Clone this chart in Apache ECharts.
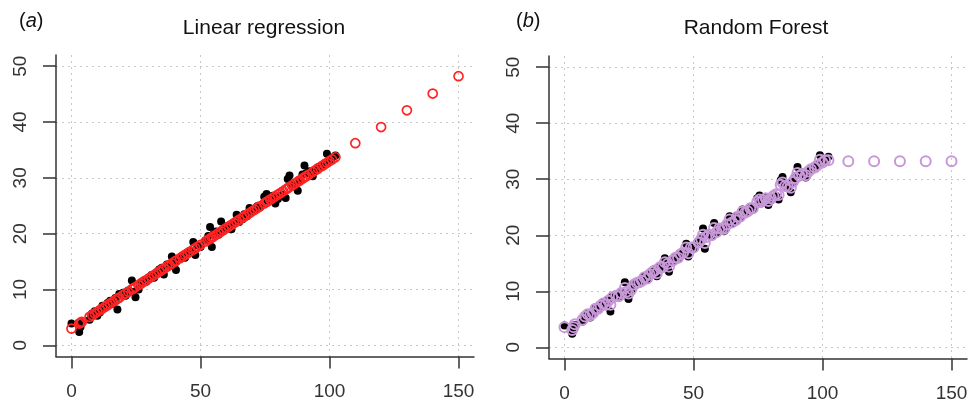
<!DOCTYPE html>
<html>
<head>
<meta charset="utf-8">
<script src="https://cdn.jsdelivr.net/npm/echarts@6/dist/echarts.min.js"></script>
<style>html,body{margin:0;padding:0;background:#fff}#c{width:973px;height:406px}</style>
</head>
<body>
<div id="c"></div>
<script>
// ---- data ----
var obsX = [0.0,3.0,3.5,4.0,7.0,8.0,9.0,10.0,11.0,12.0,13.0,14.0,15.0,16.0,17.0,17.8,18.5,20.0,21.0,22.0,23.4,24.0,24.8,26.0,27.0,28.0,29.0,30.0,31.0,32.0,33.0,34.0,35.0,35.8,37.0,38.0,38.9,40.0,40.5,42.0,43.0,44.0,45.0,46.0,47.2,48.0,49.0,50.0,52.0,53.0,53.7,54.4,55.0,56.0,57.0,58.0,59.0,60.0,61.0,62.0,63.0,64.0,65.0,66.3,67.0,68.0,69.0,70.0,71.0,72.0,73.0,74.7,75.6,76.0,77.0,78.0,79.0,80.0,81.0,82.0,83.0,83.8,84.5,85.5,86.5,87.7,88.5,89.5,90.3,91.0,92.0,93.5,94.5,95.5,97.0,98.0,99.0,100.0,101.0,102.3];
var obsY = [3.9,2.4,3.3,4.0,4.6,5.7,6.1,5.3,5.9,7.1,6.8,7.6,8.0,7.4,8.5,6.4,9.2,9.4,8.9,9.8,11.6,9.6,8.6,10.0,11.3,11.6,11.4,11.8,12.6,12.1,13.1,13.6,13.9,12.7,14.5,14.2,15.9,14.7,13.5,15.4,16.1,15.7,16.6,16.9,18.5,16.2,17.9,17.6,18.8,19.6,21.2,17.6,19.9,20.4,19.8,22.2,20.5,21.3,21.0,20.8,21.9,23.4,22.1,22.6,23.5,23.1,24.6,24.0,24.3,24.9,24.7,26.6,27.1,25.9,26.4,26.8,25.4,26.2,26.7,27.0,26.4,29.8,30.4,28.9,28.5,27.7,29.5,30.6,32.2,30.8,31.2,30.3,31.5,31.9,32.1,32.6,34.3,33.0,33.6,34.0];
var newX = [110,120,130,140,150];
var lmY = [3.0,3.9,4.05,4.2,5.1,5.4,5.7,6.0,6.3,6.6,6.9,7.2,7.5,7.8,8.1,8.34,8.55,9.0,9.3,9.6,10.02,10.2,10.44,10.8,11.1,11.4,11.7,12.0,12.3,12.6,12.9,13.2,13.5,13.74,14.1,14.4,14.67,15.0,15.15,15.6,15.9,16.2,16.5,16.8,17.16,17.4,17.7,18.0,18.6,18.9,19.11,19.32,19.5,19.8,20.1,20.4,20.7,21.0,21.3,21.6,21.9,22.2,22.5,22.89,23.1,23.4,23.7,24.0,24.3,24.6,24.9,25.41,25.68,25.8,26.1,26.4,26.7,27.0,27.3,27.6,27.9,28.14,28.35,28.65,28.95,29.31,29.55,29.85,30.09,30.3,30.6,31.05,31.35,31.65,32.1,32.4,32.7,33.0,33.3,33.69];
var lmNewY = [36.2,39.1,42.1,45.1,48.2];
var rfY = [3.6,3.1,3.6,4.1,4.9,5.5,5.9,5.7,6.1,6.9,6.9,7.4,7.8,7.6,8.3,7.6,8.9,9.2,9.1,9.7,10.6,9.9,9.6,10.4,11.2,11.5,11.6,11.9,12.5,12.3,13.0,13.4,13.7,13.2,14.3,14.3,15.2,14.9,14.4,15.5,16.0,16.0,16.6,16.9,17.8,16.8,17.8,17.8,18.7,19.3,20.1,18.6,19.7,20.1,20.0,21.3,20.6,21.2,21.2,21.2,21.9,22.8,22.3,22.7,23.3,23.3,24.2,24.0,24.3,24.8,24.8,26.0,26.4,25.9,26.3,26.6,26.1,26.6,27.0,27.3,27.2,29.0,29.4,28.8,28.7,28.5,29.5,30.2,31.1,30.6,30.9,30.7,31.4,31.8,32.1,32.5,33.5,33.0,33.4,33.4];
var rfNewY = [33.2,33.2,33.2,33.2,33.2];
var xTicks = [0,50,100,150];
var yTicks = [0,10,20,30,40,50];
var titles = ['Linear regression','Random Forest'];
var panelTags = ['a','b'];

function pairs(xs, ys){ var out=[]; for(var i=0;i<xs.length;i++) out.push([xs[i],ys[i]]); return out; }

var FONT = 'Liberation Sans, Arial, sans-serif';
var AX = '#333';
var grids = [
  {left:56, top:55, width:418, height:301.5},
  {left:549, top:56, width:418, height:302.5}
];
function xAxisDef(i){
  return {gridIndex:i, type:'value', min:-6, max:156,
    axisLine:{show:true, onZero:false, lineStyle:{color:AX, width:1.5}},
    axisTick:{show:true, inside:false, length:12, customValues:xTicks, lineStyle:{color:AX, width:1.5}},
    axisLabel:{customValues:xTicks, margin:26, color:'#333', fontSize:19, fontFamily:FONT},
    splitLine:{show:true, customValues:xTicks, lineStyle:{color:'#c8c8c8', type:[2,4], width:1}}
  };
}
function yAxisDef(i){
  return {gridIndex:i, type:'value', min:-2, max:52,
    axisLine:{show:true, onZero:false, lineStyle:{color:AX, width:1.5}},
    axisTick:{show:true, inside:false, length:13, customValues:yTicks, lineStyle:{color:AX, width:1.5}},
    axisLabel:{customValues:yTicks, margin:26, rotate:90, color:'#333', fontSize:19, fontFamily:FONT},
    splitLine:{show:true, customValues:yTicks, lineStyle:{color:'#c8c8c8', type:[2,4], width:1}}
  };
}
var RED = '#ff2424', PURPLE = '#c898d8';
var option = {
  animation:false,
  backgroundColor:'#fff',
  grid: grids,
  xAxis:[xAxisDef(0), xAxisDef(1)],
  yAxis:[yAxisDef(0), yAxisDef(1)],
  series:[
    {type:'scatter', xAxisIndex:0, yAxisIndex:0, data:pairs(obsX,obsY), symbol:'circle', symbolSize:8, itemStyle:{color:'#000', opacity:1}},
    {type:'scatter', xAxisIndex:0, yAxisIndex:0, data:pairs(obsX.concat(newX), lmY.concat(lmNewY)), symbol:'circle', symbolSize:9,
      itemStyle:{color:'rgba(0,0,0,0)', borderColor:RED, borderWidth:1.7, opacity:1}},
    {type:'scatter', xAxisIndex:1, yAxisIndex:1, data:pairs(obsX,obsY), symbol:'circle', symbolSize:8, itemStyle:{color:'#000', opacity:1}},
    {type:'scatter', xAxisIndex:1, yAxisIndex:1, data:pairs(obsX.concat(newX), rfY.concat(rfNewY)), symbol:'circle', symbolSize:10,
      itemStyle:{color:'rgba(0,0,0,0)', borderColor:PURPLE, borderWidth:2, opacity:1}}
  ],
  graphic:[
    {type:'text', x:264, y:28, style:{text:titles[0], font:'21px '+FONT, fill:'#111', align:'center', verticalAlign:'middle'}},
    {type:'text', x:756, y:28, style:{text:titles[1], font:'21px '+FONT, fill:'#111', align:'center', verticalAlign:'middle'}},
    {type:'text', x:19, y:21, style:{text:'({i|'+panelTags[0]+'})', font:'20px '+FONT, fill:'#111', verticalAlign:'middle',
      rich:{i:{fontStyle:'italic', fontSize:20, fontFamily:FONT, fill:'#111'}}}},
    {type:'text', x:516, y:21, style:{text:'({i|'+panelTags[1]+'})', font:'20px '+FONT, fill:'#111', verticalAlign:'middle',
      rich:{i:{fontStyle:'italic', fontSize:20, fontFamily:FONT, fill:'#111'}}}}
  ]
};
var chart = echarts.init(document.getElementById('c'), null, {renderer:'canvas'});
chart.setOption(option);
</script>
</body>
</html>
